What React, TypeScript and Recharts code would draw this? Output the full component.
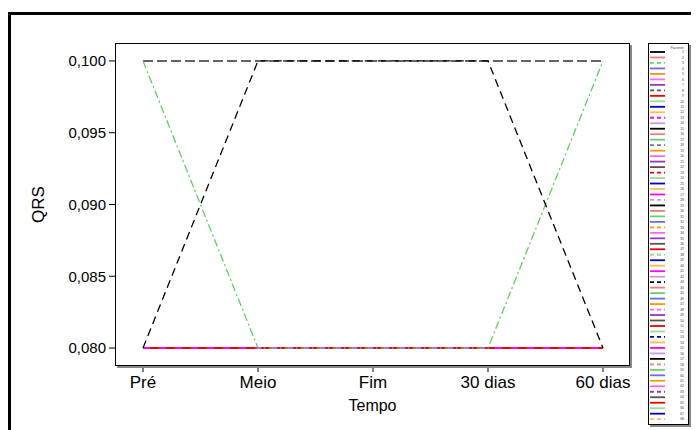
import React from 'react';
import { LineChart, Line, XAxis, YAxis, Legend } from 'recharts';

// ---------- data ----------
const timePoints = ['Pré', 'Meio', 'Fim', '30 dias', '60 dias'];
const yTicks = [0.08, 0.085, 0.09, 0.095, 0.1];
const yDomain: [number, number] = [0.07875, 0.10125];
const xAxisTitle = 'Tempo';
const yAxisTitle = 'QRS';
const legendTitle = 'Paciente';

// QRS value of each patient (1..68) at Pré, Meio, Fim, 30 dias, 60 dias
const patientQRS: number[][] = [
  [0.08, 0.08, 0.08, 0.08, 0.08], // 1
  [0.08, 0.08, 0.08, 0.08, 0.08], // 2
  [0.08, 0.08, 0.08, 0.08, 0.08], // 3
  [0.08, 0.08, 0.08, 0.08, 0.08], // 4
  [0.08, 0.08, 0.08, 0.08, 0.08], // 5
  [0.08, 0.08, 0.08, 0.08, 0.08], // 6
  [0.08, 0.08, 0.08, 0.08, 0.08], // 7
  [0.1, 0.1, 0.1, 0.1, 0.1], // 8
  [0.08, 0.08, 0.08, 0.08, 0.08], // 9
  [0.08, 0.08, 0.08, 0.08, 0.08], // 10
  [0.08, 0.08, 0.08, 0.08, 0.08], // 11
  [0.08, 0.08, 0.08, 0.08, 0.08], // 12
  [0.08, 0.08, 0.08, 0.08, 0.08], // 13
  [0.08, 0.08, 0.08, 0.08, 0.08], // 14
  [0.08, 0.08, 0.08, 0.08, 0.08], // 15
  [0.08, 0.08, 0.08, 0.08, 0.08], // 16
  [0.08, 0.08, 0.08, 0.08, 0.08], // 17
  [0.08, 0.08, 0.08, 0.08, 0.08], // 18
  [0.08, 0.08, 0.08, 0.08, 0.08], // 19
  [0.08, 0.08, 0.08, 0.08, 0.08], // 20
  [0.08, 0.08, 0.08, 0.08, 0.08], // 21
  [0.08, 0.08, 0.08, 0.08, 0.08], // 22
  [0.08, 0.08, 0.08, 0.08, 0.08], // 23
  [0.08, 0.08, 0.08, 0.08, 0.08], // 24
  [0.08, 0.08, 0.08, 0.08, 0.08], // 25
  [0.08, 0.08, 0.08, 0.08, 0.08], // 26
  [0.08, 0.08, 0.08, 0.08, 0.08], // 27
  [0.08, 0.08, 0.08, 0.08, 0.08], // 28
  [0.08, 0.08, 0.08, 0.08, 0.08], // 29
  [0.08, 0.08, 0.08, 0.08, 0.08], // 30
  [0.08, 0.08, 0.08, 0.08, 0.08], // 31
  [0.08, 0.08, 0.08, 0.08, 0.08], // 32
  [0.08, 0.08, 0.08, 0.08, 0.08], // 33
  [0.08, 0.08, 0.08, 0.08, 0.08], // 34
  [0.08, 0.08, 0.08, 0.08, 0.08], // 35
  [0.08, 0.08, 0.08, 0.08, 0.08], // 36
  [0.08, 0.08, 0.08, 0.08, 0.08], // 37
  [0.1, 0.08, 0.08, 0.08, 0.1], // 38
  [0.08, 0.08, 0.08, 0.08, 0.08], // 39
  [0.08, 0.08, 0.08, 0.08, 0.08], // 40
  [0.08, 0.08, 0.08, 0.08, 0.08], // 41
  [0.08, 0.08, 0.08, 0.08, 0.08], // 42
  [0.08, 0.1, 0.1, 0.1, 0.08], // 43
  [0.08, 0.08, 0.08, 0.08, 0.08], // 44
  [0.08, 0.08, 0.08, 0.08, 0.08], // 45
  [0.08, 0.08, 0.08, 0.08, 0.08], // 46
  [0.08, 0.08, 0.08, 0.08, 0.08], // 47
  [0.08, 0.08, 0.08, 0.08, 0.08], // 48
  [0.08, 0.08, 0.08, 0.08, 0.08], // 49
  [0.08, 0.08, 0.08, 0.08, 0.08], // 50
  [0.08, 0.08, 0.08, 0.08, 0.08], // 51
  [0.08, 0.08, 0.08, 0.08, 0.08], // 52
  [0.08, 0.08, 0.08, 0.08, 0.08], // 53
  [0.08, 0.08, 0.08, 0.08, 0.08], // 54
  [0.08, 0.08, 0.08, 0.08, 0.08], // 55
  [0.08, 0.08, 0.08, 0.08, 0.08], // 56
  [0.08, 0.08, 0.08, 0.08, 0.08], // 57
  [0.08, 0.08, 0.08, 0.08, 0.08], // 58
  [0.08, 0.08, 0.08, 0.08, 0.08], // 59
  [0.08, 0.08, 0.08, 0.08, 0.08], // 60
  [0.08, 0.08, 0.08, 0.08, 0.08], // 61
  [0.08, 0.08, 0.08, 0.08, 0.08], // 62
  [0.08, 0.08, 0.08, 0.08, 0.08], // 63
  [0.08, 0.08, 0.08, 0.08, 0.08], // 64
  [0.08, 0.08, 0.08, 0.08, 0.08], // 65
  [0.08, 0.08, 0.08, 0.08, 0.08], // 66
  [0.08, 0.08, 0.08, 0.08, 0.08], // 67
  [0.08, 0.08, 0.08, 0.08, 0.08], // 68
];

// ---------- styles ----------
const palette = [
  '#000000', '#f47c7c', '#6fcf6f', '#6a6af0', '#ff9900', '#ff66ee', '#9933cc',
  '#555555', '#ee0000', '#99dd99', '#0000cc', '#ffbb55', '#ff00ff', '#c899e0',
];
const FONT = '"Liberation Sans", Arial, Helvetica, sans-serif';

const colorOf = (i: number) => palette[i % palette.length];
const isDashed = (i: number) => (i + 1) % 5 === 3;
const legendDash = (i: number) => (isDashed(i) ? '4 3' : undefined);

// special plot line styles (by patient index)
const plotStyle: Record<number, { dash: string; width: number; stroke?: string }> = {
  7: { dash: '10 4', width: 1.6, stroke: '#333333' },
  37: { dash: '8 3 2 3', width: 1.3, stroke: '#5fcf5f' },
  42: { dash: '8 5', width: 1.3, stroke: '#000000' },
};

const rank = (i: number) => {
  if (plotStyle[i]) return 4;
  const c = colorOf(i);
  if (c === '#ff00ff') return 3;
  if (c === '#ee0000') return 2;
  if (c === '#9933cc') return 1;
  return 0;
};

const keyOf = (i: number) => `p${i + 1}`;

const chartData = timePoints.map((t, ti) => {
  const row: Record<string, string | number> = { tempo: t };
  patientQRS.forEach((vals, pi) => {
    row[keyOf(pi)] = vals[ti];
  });
  return row;
});

const drawOrder = patientQRS.map((_, i) => i).sort((a, b) => rank(a) - rank(b) || a - b);

const fmt = (v: number) => v.toFixed(3).replace('.', ',');

const LEG_W = 41;
const LEG_H = 382;

const renderLegend = (props: any) => {
  const items = [...(props.payload || [])]
    .map((it: any) => ({ it, i: parseInt(String(it.dataKey).slice(1), 10) - 1 }))
    .sort((a, b) => a.i - b.i);
  return (
    <div
      style={{
        width: LEG_W,
        height: LEG_H,
        boxSizing: 'border-box',
        border: '1px solid #000',
        boxShadow: '2px 2px 0 #888',
        background: '#fff',
      }}
    >
      <svg width={LEG_W - 2} height={LEG_H - 2} style={{ display: 'block' }}>
        <text x={28} y={4.5} fontSize={3.4} textAnchor="middle" fill="#444" fontFamily={FONT}>
          {legendTitle}
        </text>
        {items.map(({ it, i }, k) => {
          const y = 8 + k * 5.48;
          return (
            <g key={it.dataKey}>
              <line x1={1} x2={16} y1={y} y2={y} stroke={colorOf(i)} strokeWidth={1.8} strokeDasharray={legendDash(i)} />
              <text x={35} y={y + 1.2} fontSize={3.4} textAnchor="end" fill="#444" fontFamily={FONT}>
                {it.value}
              </text>
            </g>
          );
        })}
      </svg>
    </div>
  );
};

export default function App() {
  return (
    <div style={{ position: 'relative', width: 691, height: 422, overflow: 'hidden', background: '#fff', fontFamily: FONT }}>
      <div
        style={{
          position: 'absolute',
          left: 0,
          top: 4,
          width: 800,
          height: 600,
          borderTop: '3px solid #000',
          borderLeft: '3px solid #000',
          boxSizing: 'border-box',
        }}
      />
      <LineChart
        width={691}
        height={422}
        data={chartData}
        margin={{ top: 35, right: 28, bottom: 14, left: 0 }}
        style={{ position: 'absolute', left: 0, top: 0 }}
      >
        <XAxis
          dataKey="tempo"
          type="category"
          padding={{ left: 28, right: 27 }}
          height={50}
          axisLine={false}
          tickLine={{ stroke: '#000' }}
          tickSize={6}
          tickMargin={4}
          tick={{ fill: '#000', fontSize: 17, fontFamily: FONT }}
          interval={0}
          label={{ value: xAxisTitle, position: 'insideBottom', offset: 5, style: { fill: '#000', fontSize: 16, fontFamily: FONT } }}
        />
        <YAxis
          type="number"
          domain={yDomain}
          ticks={yTicks}
          allowDataOverflow
          width={107}
          axisLine={false}
          tickLine={{ stroke: '#000' }}
          tickSize={6}
          tickMargin={3}
          tickFormatter={fmt}
          tick={{ fill: '#000', fontSize: 15, fontFamily: FONT }}
          label={{
            value: yAxisTitle,
            angle: -90,
            position: 'insideLeft',
            offset: 30,
            style: { textAnchor: 'middle', fill: '#000', fontSize: 17, fontFamily: FONT },
          }}
        />
        <Legend
          layout="horizontal"
          verticalAlign="middle"
          align="right"
          content={renderLegend}
          wrapperStyle={{ left: 640, top: 35, width: LEG_W, height: LEG_H, right: undefined, bottom: undefined }}
        />
        {drawOrder.map((i) => {
          const s = plotStyle[i];
          const c = colorOf(i);
          return (
            <Line
              key={keyOf(i)}
              dataKey={keyOf(i)}
              name={String(i + 1)}
              stroke={s?.stroke ?? c}
              strokeWidth={s ? s.width : 2}
              strokeDasharray={s ? s.dash : c === '#ff00ff' ? '7 9' : isDashed(i) ? '6 6' : undefined}
              dot={false}
              activeDot={false}
              isAnimationActive={false}
            />
          );
        })}
      </LineChart>
      <div
        style={{
          position: 'absolute',
          left: 107,
          top: 35,
          width: 515,
          height: 323,
          boxSizing: 'border-box',
          border: '1px solid #000',
          boxShadow: '2px 2px 0 #888',
          pointerEvents: 'none',
        }}
      />
    </div>
  );
}
